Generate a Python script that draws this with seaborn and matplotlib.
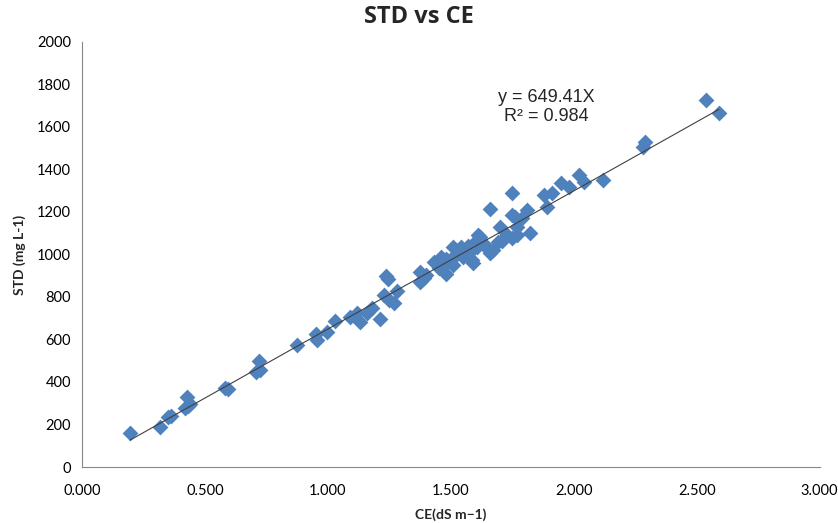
import matplotlib
matplotlib.use("Agg")
import matplotlib.pyplot as plt
import seaborn as sns
import numpy as np
import pandas as pd
from matplotlib.ticker import FormatStrFormatter, MultipleLocator

ce = [0.195, 0.317, 0.350, 0.360, 0.420, 0.427, 0.440, 0.430, 0.580, 0.595,
      0.707, 0.720, 0.722, 0.874, 0.950, 0.955, 0.995, 1.030, 1.090, 1.120,
      1.130, 1.160, 1.180, 1.210, 1.230, 1.236, 1.245, 1.250, 1.270, 1.280,
      1.374, 1.375, 1.390, 1.400, 1.430, 1.450, 1.460, 1.470, 1.480, 1.490,
      1.500, 1.510, 1.510, 1.520, 1.530, 1.540, 1.550, 1.560, 1.570, 1.585,
      1.590, 1.600, 1.605, 1.610, 1.620, 1.630, 1.640, 1.650, 1.660, 1.660,
      1.670, 1.690, 1.700, 1.710, 1.730, 1.750, 1.750, 1.750, 1.760, 1.770,
      1.770, 1.790, 1.810, 1.820, 1.880, 1.890, 1.910, 1.950, 1.980, 2.020,
      2.040, 2.120, 2.280, 2.290, 2.540, 2.590, 1.550, 1.480, 1.580, 1.620]
std = [160, 188, 235, 240, 278, 330, 296, 285, 372, 367,
       447, 500, 455, 574, 626, 598, 636, 687, 706, 725,
       682, 725, 748, 696, 809, 899, 885, 786, 772, 828,
       870, 918, 889, 905, 965, 936, 988, 950, 910, 970,
       975, 1035, 950, 1000, 1020, 1035, 988, 1010, 1040, 974,
       960, 1060, 1035, 1092, 1080, 1050, 1040, 1030, 1007, 1214,
       1020, 1059, 1130, 1065, 1090, 1186, 1078, 1290, 1176, 1092,
       1130, 1170, 1210, 1100, 1280, 1224, 1290, 1336, 1318, 1374,
       1341, 1350, 1505, 1530, 1727, 1666, 1000, 980, 1015, 1070]
slope = 649.41
eq_text = "y = 649.41X\nR² = 0.984"

df = pd.DataFrame({"CE": ce, "STD": std})

sns.set_theme(style="white")
plt.rcParams['font.family'] = ['Lato', 'DejaVu Sans']

fig = plt.figure(figsize=(8.38, 5.23), dpi=100)
ax = fig.add_axes([0.098, 0.107, 0.880, 0.813])

sns.scatterplot(data=df, x="CE", y="STD", marker="D", s=65, color="#4F81BD",
                edgecolor="#4F81BD", linewidth=0, ax=ax, zorder=3)

xl = np.array([min(ce), max(ce)])
sns.lineplot(x=xl, y=slope * xl, color="#404040", linewidth=0.8, ax=ax, zorder=4)

ax.set_xlim(0, 3)
ax.set_ylim(0, 2000)
ax.xaxis.set_major_locator(MultipleLocator(0.5))
ax.yaxis.set_major_locator(MultipleLocator(200))
ax.xaxis.set_major_formatter(FormatStrFormatter("%.3f"))

for side in ["top", "right"]:
    ax.spines[side].set_visible(False)
for side in ["left", "bottom"]:
    ax.spines[side].set_color("#868686")
    ax.spines[side].set_linewidth(0.8)

ax.tick_params(axis="both", which="major", direction="out", length=4, width=0.8,
               color="#868686", labelsize=10.5, labelcolor="#000000", pad=4)
ax.tick_params(axis="x", pad=8)

ax.set_xlabel("CE(dS m\u22121)", fontsize=10, fontweight="bold", labelpad=8)
ax.set_ylabel("STD (mg L-1)", fontsize=10, fontweight="bold", labelpad=8)

fig.suptitle("STD vs CE", fontsize=17, fontweight="bold", y=0.99,
             family=['Open Sans', 'DejaVu Sans'])

ax.text(1.89, 1695, eq_text, fontsize=13, ha="center", va="center",
        family=['Liberation Sans', 'DejaVu Sans'], linespacing=1.15)

fig.savefig("out.png", dpi=100)
